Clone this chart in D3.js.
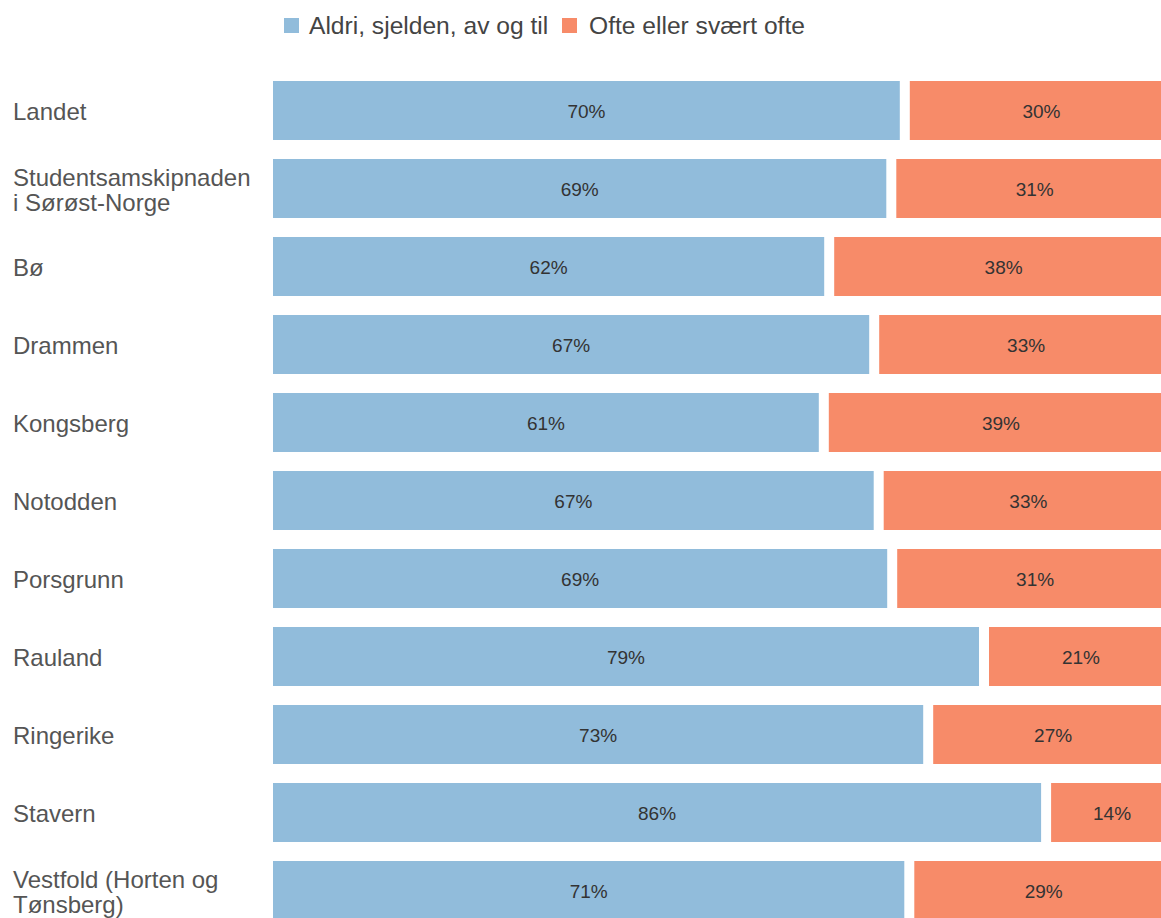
<!DOCTYPE html>
<html>
<head>
<meta charset="utf-8">
<script src="https://cdn.jsdelivr.net/npm/d3@7"></script>
<style>
  body { margin: 0; background: #fff; }
  svg { display: block; font-family: "Liberation Sans", Arial, sans-serif; }
</style>
</head>
<body>
<div id="chart"></div>
<script>
// data
var categories = [
    ['Landet'],
    ['Studentsamskipnaden', 'i Sørøst-Norge'],
    ['Bø'],
    ['Drammen'],
    ['Kongsberg'],
    ['Notodden'],
    ['Porsgrunn'],
    ['Rauland'],
    ['Ringerike'],
    ['Stavern'],
    ['Vestfold (Horten og', 'Tønsberg)']
];
var seldenValues = [70.2, 68.7, 61.8, 66.8, 61.2, 67.3, 68.8, 79.0, 72.8, 85.9, 70.7];
var ofteValues = [29.8, 31.3, 38.2, 33.2, 38.8, 32.7, 31.2, 21.0, 27.2, 14.1, 29.3];
var seriesNames = ['Aldri, sjelden, av og til', 'Ofte eller svært ofte'];

var blueColor = '#91bcdb';
var orangeColor = '#f78b69';
var width = 1161;
var height = 918;
var gap = 5;

var svg = d3.select('#chart')
    .append('svg')
    .attr('width', width)
    .attr('height', height);

var keys = categories.map(function (c) { return c.join(' '); });

var xScale = d3.scaleLinear()
    .domain([0, 100])
    .range([273, 1173]);

var yScale = d3.scaleBand()
    .domain(keys)
    .range([81, 81 + 10 * 78 + 59])
    .paddingInner(19 / 78)
    .paddingOuter(0);

var rows = keys.map(function (k, i) {
    return { key: k, lines: categories[i], a: seldenValues[i], b: ofteValues[i] };
});

// category labels
var labels = svg.append('g').attr('class', 'labels');
rows.forEach(function (d) {
    var cy = yScale(d.key) + yScale.bandwidth() / 2;
    var n = d.lines.length;
    var t = labels.append('text')
        .attr('x', 13)
        .attr('y', cy - (n - 1) * 12.5 + 9.5)
        .style('font-size', '24px')
        .attr('fill', '#555');
    d.lines.forEach(function (line, j) {
        t.append('tspan')
            .attr('x', 13)
            .attr('dy', j == 0 ? 0 : 25)
            .text(line);
    });
});

var bars = svg.append('g').attr('class', 'bars');

bars.selectAll('.blue')
    .data(rows)
    .enter()
    .append('rect')
    .attr('class', 'blue')
    .attr('x', xScale(0))
    .attr('y', function (d) { return yScale(d.key); })
    .attr('width', function (d) { return xScale(d.a) - xScale(0) - gap; })
    .attr('height', yScale.bandwidth())
    .attr('fill', blueColor);

bars.selectAll('.orange')
    .data(rows)
    .enter()
    .append('rect')
    .attr('class', 'orange')
    .attr('x', function (d) { return xScale(d.a) + gap; })
    .attr('y', function (d) { return yScale(d.key); })
    .attr('width', function (d) { return xScale(d.a + d.b) - xScale(d.a) - gap; })
    .attr('height', yScale.bandwidth())
    .attr('fill', orangeColor);

bars.selectAll('.blueLabel')
    .data(rows)
    .enter()
    .append('text')
    .attr('x', function (d) { return (xScale(0) + xScale(d.a) - gap) / 2; })
    .attr('y', function (d) { return yScale(d.key) + yScale.bandwidth() / 2 + 7; })
    .attr('text-anchor', 'middle')
    .style('font-size', '19px')
    .attr('fill', '#333')
    .text(function (d) { return Math.round(d.a) + '%'; });

bars.selectAll('.orangeLabel')
    .data(rows)
    .enter()
    .append('text')
    .attr('x', function (d) { return (xScale(d.a) + gap + xScale(d.a + d.b)) / 2; })
    .attr('y', function (d) { return yScale(d.key) + yScale.bandwidth() / 2 + 7; })
    .attr('text-anchor', 'middle')
    .style('font-size', '19px')
    .attr('fill', '#333')
    .text(function (d) { return Math.round(d.b) + '%'; });

// legend
var legend = svg.append('g').attr('class', 'legend');
legend.append('rect')
    .attr('x', 284).attr('y', 18)
    .attr('width', 15).attr('height', 15)
    .attr('fill', blueColor);
legend.append('text')
    .attr('x', 309).attr('y', 34)
    .style('font-size', '24.6px')
    .attr('fill', '#444')
    .text(seriesNames[0]);
legend.append('rect')
    .attr('x', 562).attr('y', 18)
    .attr('width', 15).attr('height', 15)
    .attr('fill', orangeColor);
legend.append('text')
    .attr('x', 589).attr('y', 34)
    .style('font-size', '24.6px')
    .attr('fill', '#444')
    .text(seriesNames[1]);
</script>
</body>
</html>
